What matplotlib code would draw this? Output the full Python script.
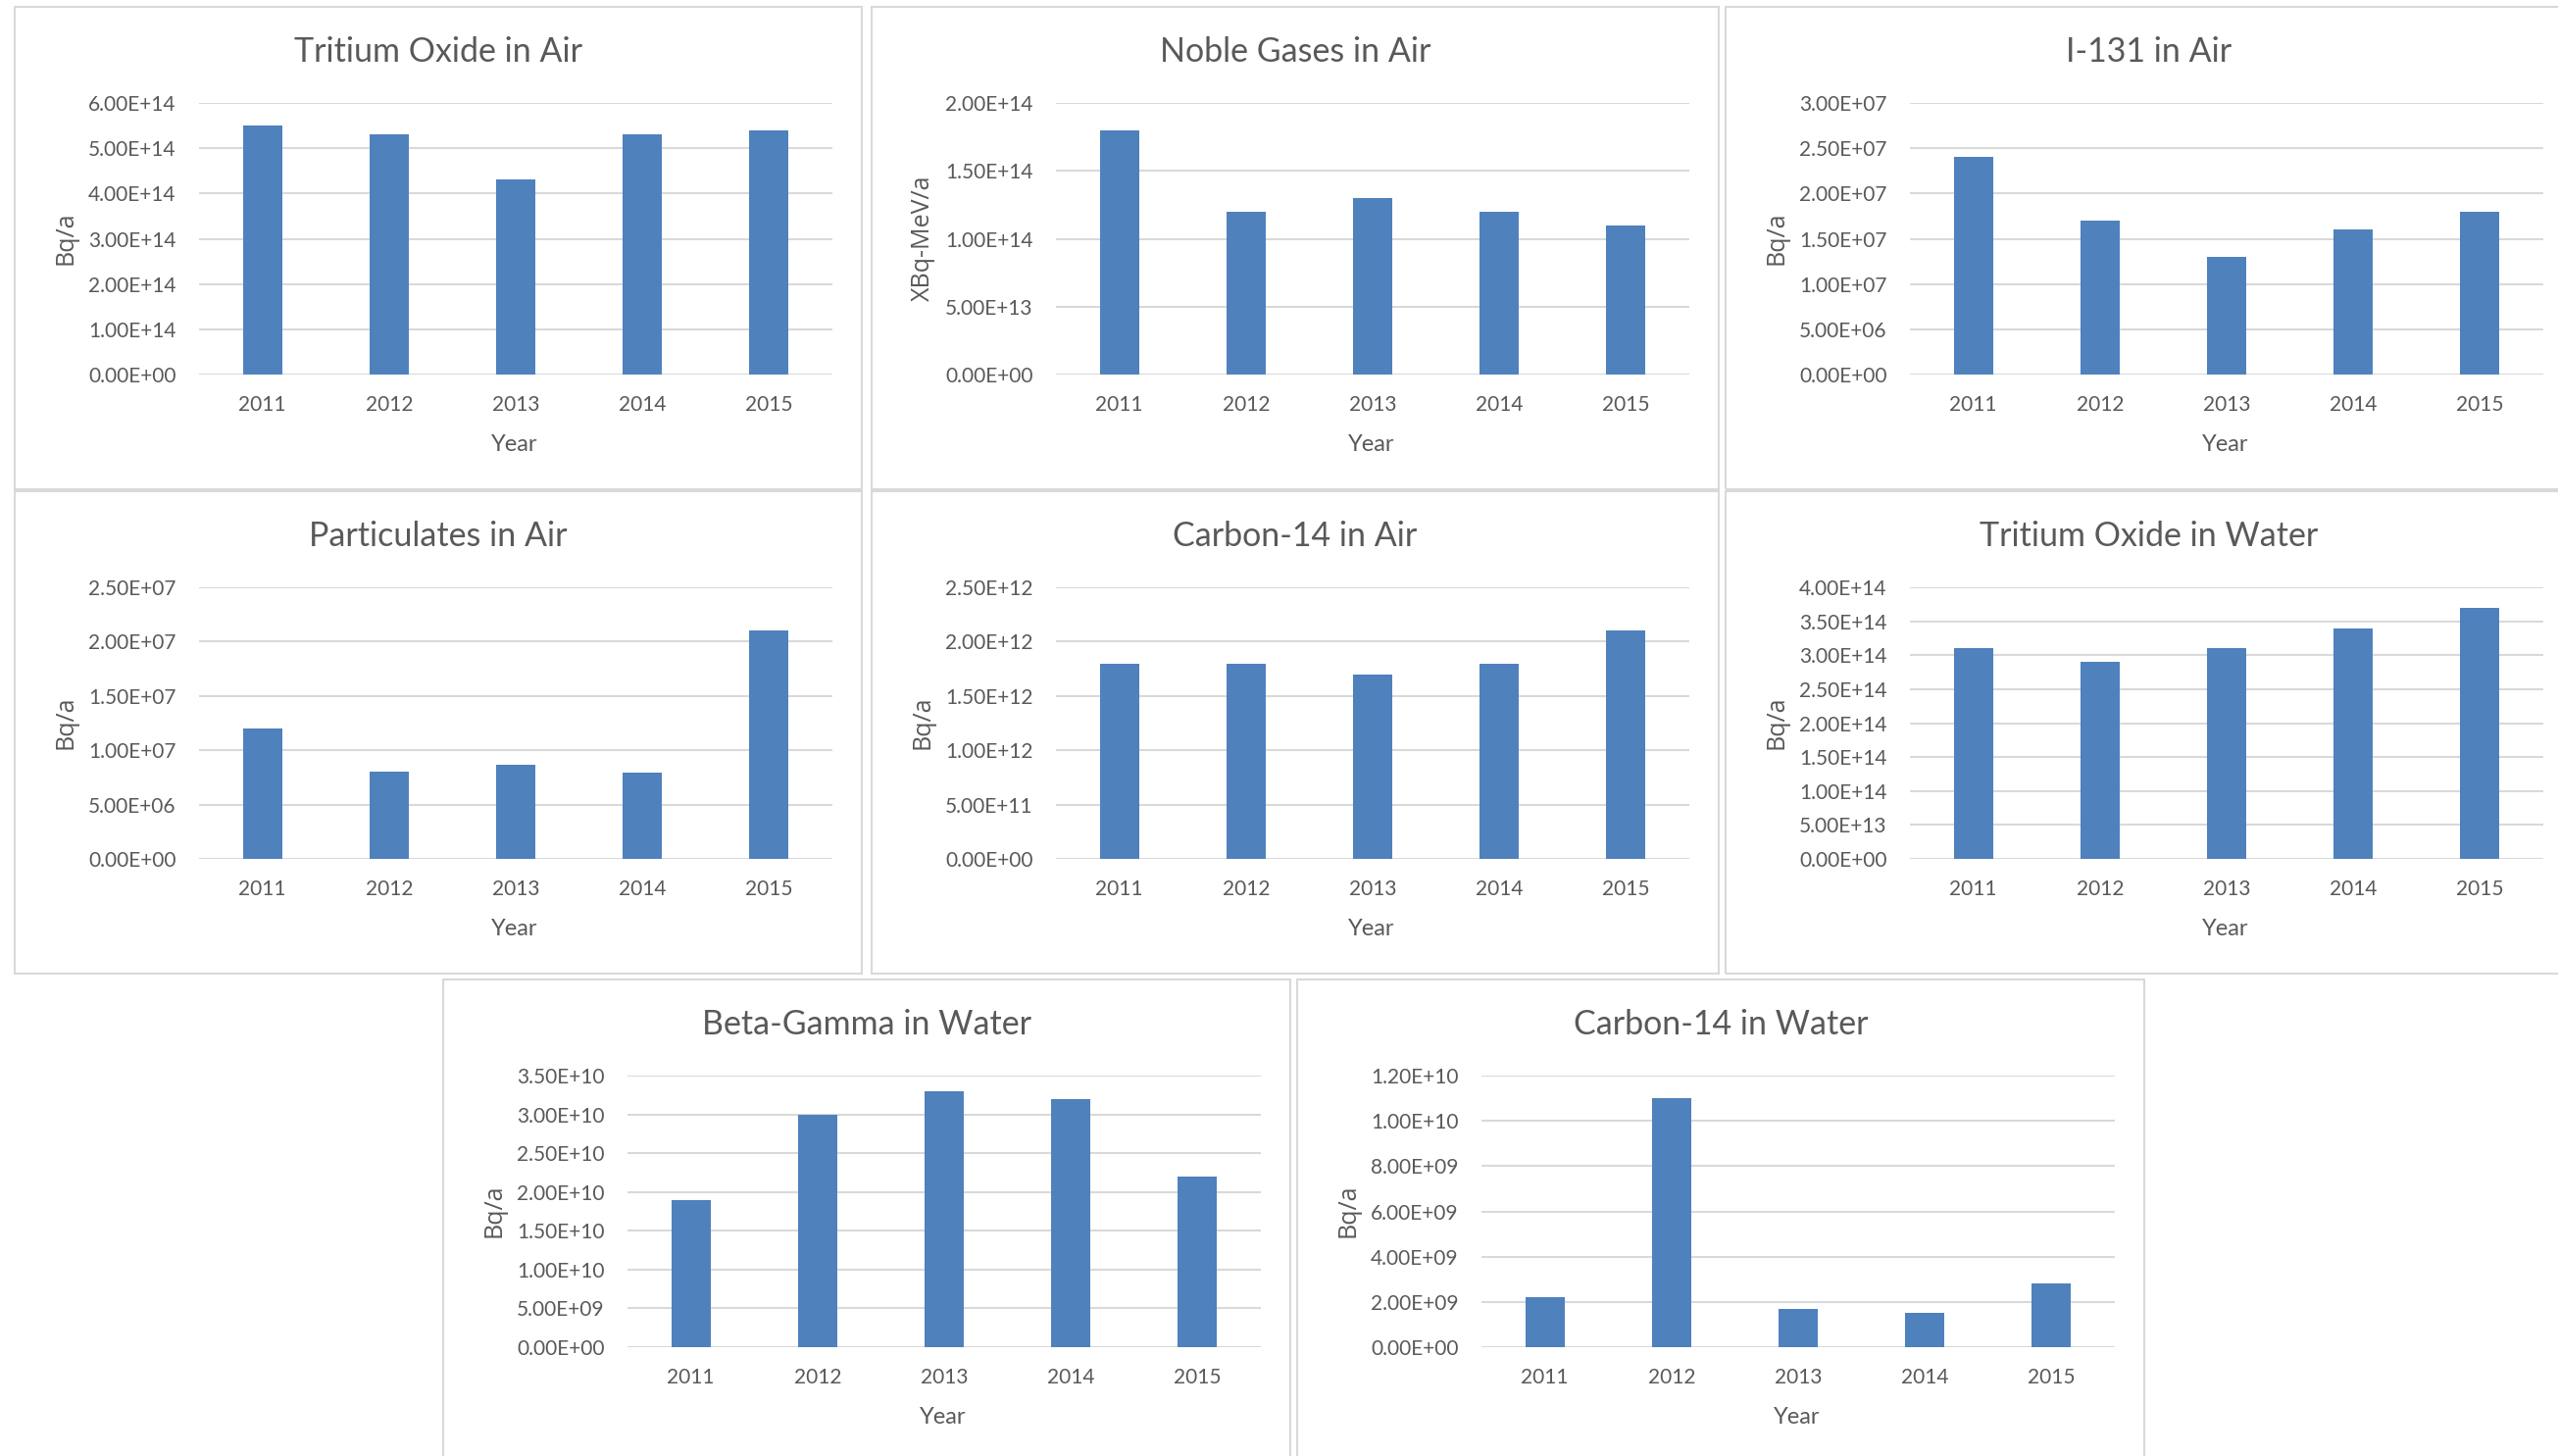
import matplotlib
matplotlib.use("Agg")
import matplotlib.pyplot as plt
from matplotlib.patches import Rectangle

# data
years = ["2011", "2012", "2013", "2014", "2015"]

tritium_air = [5.5e14, 5.3e14, 4.3e14, 5.3e14, 5.4e14]
noble_gases = [1.8e14, 1.2e14, 1.3e14, 1.2e14, 1.1e14]
i131_air = [2.4e7, 1.7e7, 1.3e7, 1.6e7, 1.8e7]
particulates = [1.2e7, 8.0e6, 8.7e6, 7.9e6, 2.1e7]
c14_air = [1.8e12, 1.8e12, 1.7e12, 1.8e12, 2.1e12]
tritium_water = [3.1e14, 2.9e14, 3.1e14, 3.4e14, 3.7e14]
beta_gamma = [1.9e10, 3.0e10, 3.3e10, 3.2e10, 2.2e10]
c14_water = [2.2e9, 1.1e10, 1.7e9, 1.5e9, 2.8e9]

titles = ["Tritium Oxide in Air", "Noble Gases in Air", "I-131 in Air",
          "Particulates in Air", "Carbon-14 in Air", "Tritium Oxide in Water",
          "Beta-Gamma in Water", "Carbon-14 in Water"]
ylabels = ["Bq/a", "XBq-MeV/a", "Bq/a", "Bq/a", "Bq/a", "Bq/a", "Bq/a", "Bq/a"]
series = [tritium_air, noble_gases, i131_air, particulates, c14_air,
          tritium_water, beta_gamma, c14_water]
ymax = [6e14, 2e14, 3e7, 2.5e7, 2.5e12, 4e14, 3.5e10, 1.2e10]
ystep = [1e14, 5e13, 5e6, 5e6, 5e11, 5e13, 5e9, 2e9]

# panel top-left corners in pixels
origins = [(15, 7), (889, 7), (1760, 7),
           (15, 501), (889, 501), (1760, 501),
           (452, 999), (1323, 999)]

W, H = 2609, 1485
PW, PH = 864, 492
blue = "#4F81BD"
grey = "#595959"
gridc = "#D9D9D9"

fig = plt.figure(figsize=(W / 100, H / 100), dpi=100)

def fx(x):
    return x / W

def fy(y):
    return 1 - y / H

for i in range(8):
    x0, y0 = origins[i]
    # panel border
    fig.patches.append(Rectangle((fx(x0), fy(y0 + PH)), PW / W, PH / H,
                                 transform=fig.transFigure, fill=False,
                                 edgecolor=gridc, lw=1.5))
    ax = fig.add_axes([fx(x0 + 188), fy(y0 + 375), 646 / W, 277 / H])
    ax.bar(range(5), series[i], width=0.31, color=blue, zorder=3)
    ax.set_xlim(-0.5, 4.5)
    ax.set_ylim(0, ymax[i])
    ticks = [k * ystep[i] for k in range(int(round(ymax[i] / ystep[i])) + 1)]
    ax.set_yticks(ticks)
    ax.set_yticklabels(["{:.2E}".format(t) for t in ticks],
                       fontsize=15, color=grey, family="Lato")
    ax.set_xticks(range(5))
    ax.set_xticklabels(years, fontsize=15, color=grey, family="Lato")
    ax.tick_params(axis="y", length=0, pad=17)
    ax.tick_params(axis="x", length=0, pad=15)
    ax.grid(axis="y", color=gridc, lw=1.5, zorder=0)
    for s in ax.spines.values():
        s.set_visible(False)
    ax.set_axisbelow(True)

    fig.text(fx(x0 + 432), fy(y0 + 46), titles[i], ha="center", va="center",
             fontsize=24.5, color=grey, family="Lato")
    fig.text(fx(x0 + 510), fy(y0 + 447), "Year", ha="center", va="center",
             fontsize=17, color=grey, family="Lato")
    fig.text(fx(x0 + 52), fy(y0 + 236), ylabels[i], ha="center", va="center",
             rotation=90, fontsize=18, color=grey, family="Open Sans")

fig.savefig("out.png", dpi=100, facecolor="white")
